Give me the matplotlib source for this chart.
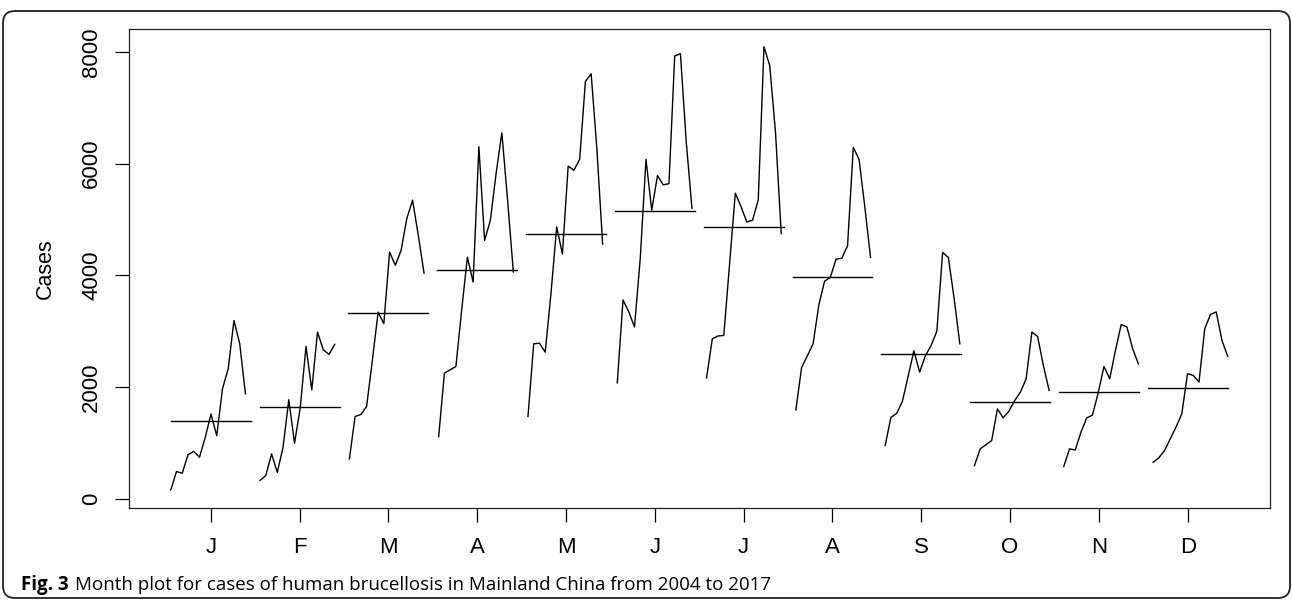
import numpy as np
import matplotlib.pyplot as plt
from matplotlib.patches import FancyBboxPatch
from matplotlib.transforms import IdentityTransform

# monthly cases of human brucellosis, one list per calendar month, 2004..2017
years = np.arange(2004, 2018)
months = ['J', 'F', 'M', 'A', 'M', 'J', 'J', 'A', 'S', 'O', 'N', 'D']

jan = [160, 490, 460, 790, 850, 745, 1100, 1520, 1130, 1970, 2330, 3190, 2780, 1880]
feb = [330, 420, 805, 475, 925, 1775, 995, 1640, 2730, 1950, 2985, 2670, 2585, 2765]
mar = [715, 1475, 1510, 1655, 2475, 3340, 3135, 4415, 4180, 4445, 5015, 5345, 4715, 4040]
apr = [1115, 2250, 2310, 2370, 3375, 4325, 3880, 6300, 4625, 4985, 5825, 6550, 5345, 4060]
may = [1475, 2775, 2785, 2625, 3670, 4865, 4380, 5955, 5880, 6075, 7470, 7605, 6260, 4560]
jun = [2075, 3560, 3350, 3075, 4300, 6075, 5165, 5785, 5620, 5640, 7925, 7965, 6400, 5200]
jul = [2165, 2865, 2915, 2925, 4195, 5470, 5230, 4955, 4985, 5350, 8090, 7750, 6560, 4745]
aug = [1590, 2350, 2560, 2775, 3470, 3895, 3965, 4290, 4305, 4530, 6290, 6075, 5230, 4320]
sep = [955, 1460, 1530, 1745, 2195, 2650, 2270, 2560, 2745, 3000, 4410, 4320, 3590, 2775]
oct_ = [595, 895, 970, 1045, 1610, 1450, 1570, 1760, 1910, 2150, 2985, 2905, 2385, 1940]
nov = [580, 895, 875, 1195, 1450, 1500, 1900, 2370, 2150, 2655, 3120, 3075, 2685, 2415]
dec = [655, 735, 865, 1075, 1285, 1520, 2240, 2210, 2090, 3045, 3300, 3345, 2835, 2550]

cases = [jan, feb, mar, apr, may, jun, jul, aug, sep, oct_, nov, dec]

plt.rcParams['font.family'] = ['Liberation Sans', 'DejaVu Sans']

W, H = 1292, 601
fig = plt.figure(figsize=(W / 100, H / 100), dpi=100)
ax = fig.add_axes([128.5 / W, (H - 507.7) / H, (1270 - 128.5) / W, (507.7 - 29) / H])

# same layout as R's monthplot: each month spread over i-0.45 .. i+0.45
t0 = years[0]
t1 = years[-1] + 11 / 12
for i, vals in enumerate(cases, start=1):
    t = years + (i - 1) / 12
    x = i - 0.45 + 0.9 * (t - t0) / (t1 - t0)
    ax.plot(x, vals, color='black', lw=1.0)
    ax.plot([i - 0.45, i + 0.45], [np.mean(vals)] * 2, color='black', lw=1.0)

allv = np.concatenate(cases)
lo, hi = allv.min(), allv.max()
pad = 0.04 * (hi - lo)
ax.set_ylim(lo - pad, hi + pad)
ax.set_xlim(0.55 - 0.04 * 11.9, 12.45 + 0.04 * 11.9)

ax.set_xticks(np.arange(1, 13))
ax.set_xticklabels(months)
ax.set_yticks([0, 2000, 4000, 6000, 8000])
ax.tick_params(axis='both', direction='out', length=10, width=0.9, colors='black', labelsize=16)
ax.tick_params(axis='x', pad=11)
ax.tick_params(axis='y', pad=9)
for lab in ax.get_yticklabels():
    lab.set_rotation(90)
    lab.set_va('center')
for s in ax.spines.values():
    s.set_linewidth(0.9)
    s.set_color('#222222')

ax.set_ylabel('Cases', fontsize=15.5)
ax.yaxis.set_label_coords(-0.064, 0.5)

# caption
cap_y = (H - 590) / H
fig.text(21 / W, cap_y, 'Fig. 3', fontsize=13.5, fontweight='bold',
         family='Open Sans', va='baseline', ha='left')
r = fig.canvas.get_renderer()
bb = fig.texts[-1].get_window_extent(renderer=r)
fig.text((bb.x1 + 6) / W, cap_y,
         'Month plot for cases of human brucellosis in Mainland China from 2004 to 2017',
         fontsize=13.5, family='Open Sans', va='baseline', ha='left')

# rounded frame round the whole figure
frame = FancyBboxPatch((3, 3), 1287, 587, boxstyle='round,pad=0,rounding_size=12',
                       transform=IdentityTransform(), fill=False, lw=1.3,
                       edgecolor='#222222')
fig.patches.append(frame)

fig.savefig('out.png', dpi=100)
